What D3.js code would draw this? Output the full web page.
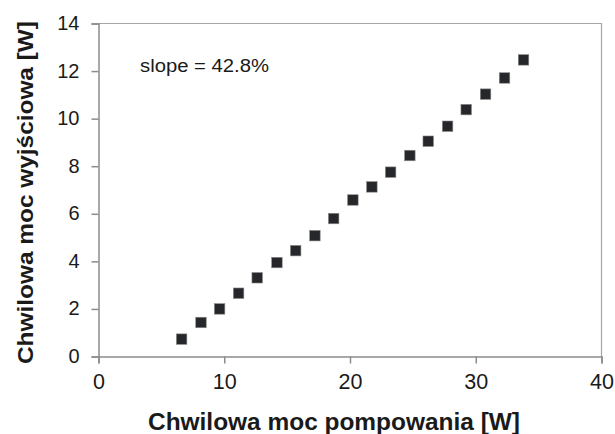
<!DOCTYPE html>
<html>
<head>
<meta charset="utf-8">
<script src="https://cdn.jsdelivr.net/npm/d3@7"></script>
<style>
  html, body { margin: 0; padding: 0; background: #fff; }
  svg { display: block; }
  text { font-family: "Liberation Sans", Arial, sans-serif; fill: #1a1a1a; }
</style>
</head>
<body>
<svg id="chart" width="615" height="434"></svg>
<script>
const pumpPower = [6.61, 8.15, 9.63, 11.14, 12.62, 14.19, 15.68, 17.21, 18.70, 20.23,
                   21.74, 23.23, 24.76, 26.22, 27.76, 29.24, 30.78, 32.29, 33.80];
const outputPower = [0.73, 1.43, 2.00, 2.66, 3.31, 3.95, 4.45, 5.08, 5.80, 6.58,
                     7.13, 7.75, 8.45, 9.05, 9.68, 10.38, 11.03, 11.71, 12.47];
const xTicks = [0, 10, 20, 30, 40];
const yTicks = [0, 2, 4, 6, 8, 10, 12, 14];
const xTitle = "Chwilowa moc pompowania [W]";
const yTitle = "Chwilowa moc wyjściowa [W]";
const annotation = "slope = 42.8%";

const svg = d3.select("#chart");
const m = { left: 98.5, top: 23.5, right: 601.5, bottom: 356.5 };

const x = d3.scaleLinear().domain([0, 40]).range([m.left, m.right]);
const y = d3.scaleLinear().domain([0, 14]).range([m.bottom, m.top]);

// frame (top and right)
svg.append("path")
  .attr("d", `M${m.left},${m.top}H${m.right}V${m.bottom}`)
  .attr("fill", "none").attr("stroke", "#a6a6a6").attr("stroke-width", 1.2);

const xAxis = svg.append("g").attr("transform", `translate(0,${m.bottom})`)
  .call(d3.axisBottom(x).tickValues(xTicks).tickSize(7).tickPadding(5).tickFormat(d3.format("d")));
const yAxis = svg.append("g").attr("transform", `translate(${m.left},0)`)
  .call(d3.axisLeft(y).tickValues(yTicks).tickSize(7).tickPadding(12).tickFormat(d3.format("d")));

[xAxis, yAxis].forEach(g => {
  g.select(".domain").attr("stroke", "#8c8c8c").attr("stroke-width", 1.5);
  g.selectAll(".tick line").attr("stroke", "#8c8c8c").attr("stroke-width", 1.5);
  g.selectAll(".tick text").attr("fill", "#1a1a1a")
    .style("font-family", "'Liberation Sans', Arial, sans-serif");
});
yAxis.selectAll(".tick text").attr("font-size", 20).attr("dy", "0.3em");
xAxis.selectAll(".tick text").attr("font-size", 21.5).attr("dy", "0.95em");

// points
const s = 10.5;
svg.append("g").selectAll("rect")
  .data(pumpPower.map((d, i) => [d, outputPower[i]]))
  .join("rect")
  .attr("x", d => x(d[0]) - s / 2)
  .attr("y", d => y(d[1]) - s / 2)
  .attr("width", s).attr("height", s)
  .attr("fill", "#26272b")
  .attr("stroke", "#8a8a8a").attr("stroke-width", 0.6);

// annotation
svg.append("text").attr("x", 140).attr("y", 72)
  .attr("font-size", 18)
  .attr("textLength", 129).attr("lengthAdjust", "spacingAndGlyphs")
  .text(annotation);

// axis titles
svg.append("text").attr("x", 148).attr("y", 430)
  .attr("font-size", 23).attr("font-weight", "bold")
  .attr("textLength", 372).attr("lengthAdjust", "spacingAndGlyphs")
  .attr("fill", "#1a1a1a").text(xTitle);

svg.append("text")
  .attr("transform", `translate(33,364) rotate(-90)`)
  .attr("font-size", 22).attr("font-weight", "bold")
  .attr("textLength", 343).attr("lengthAdjust", "spacingAndGlyphs")
  .attr("fill", "#1a1a1a").text(yTitle);
</script>
</body>
</html>
